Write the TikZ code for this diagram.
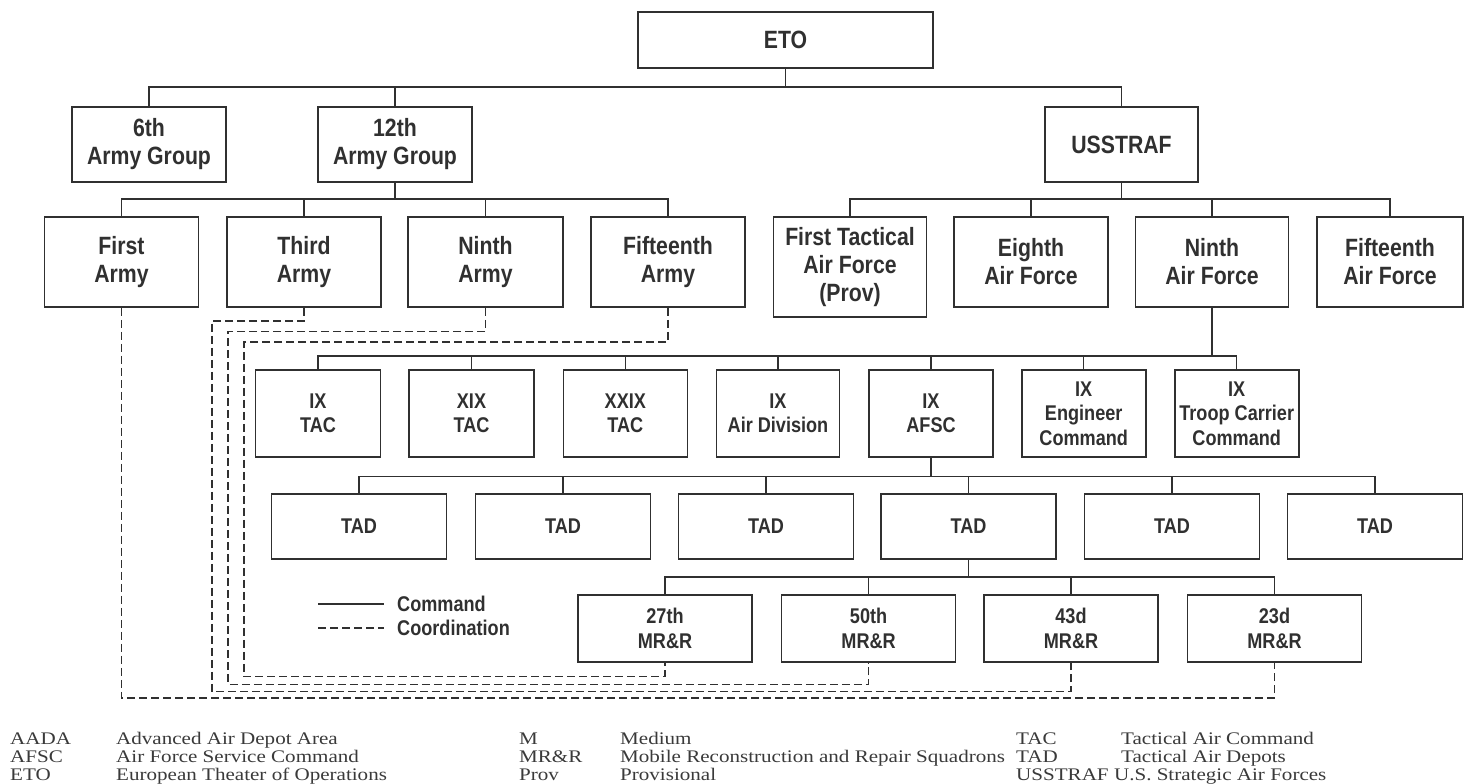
\documentclass[tikz,border=0pt]{standalone}
\usepackage{fontspec}
\setmainfont{Liberation Serif}
\newfontfamily\bxfont[FakeStretch=0.85]{Liberation Sans}
\newfontfamily\glfont[FakeStretch=1.19]{Liberation Serif}
\definecolor{ink}{HTML}{303030}
\definecolor{gink}{HTML}{3a3a3a}
\begin{document}
\begin{tikzpicture}[x=1pt,y=-1pt,
  box/.style={draw=ink, line width=1.6pt, rectangle, align=center, text=ink, inner sep=0pt,
    font=\bxfont\bfseries\fontsize{25}{28}\selectfont},
  sbox/.style={box, font=\bxfont\bfseries\fontsize{21.3}{24.5}\selectfont},
  cmd/.style={draw=ink, line width=1.3pt},
  crd/.style={draw=ink, line width=1.2pt, dash pattern=on 8pt off 4pt},
  lg/.style={anchor=west, inner sep=0pt, text=ink, font=\bxfont\bfseries\fontsize{21.3}{24}\selectfont},
  gl/.style={anchor=base west, inner sep=0pt, text=gink, font=\glfont\fontsize{17.7}{20}\selectfont}]
\useasboundingbox (0,0) rectangle (1467,784);
\fill[white] (0,0) rectangle (1467,784);

% top levels
\node[box, minimum width=295, minimum height=56] (eto) at (785.5,40) {ETO};
\node[box, minimum width=154, minimum height=75] (g6) at (149,144.5) {6th\\Army Group};
\node[box, minimum width=154, minimum height=75] (g12) at (395,144.5) {12th\\Army Group};
\node[box, minimum width=153, minimum height=75] (usstraf) at (1121.5,144.5) {USSTRAF};

% armies and air forces
\node[box, minimum width=154, minimum height=90] (a1) at (121.5,262) {First\\Army};
\node[box, minimum width=154, minimum height=90] (a3) at (304,262) {Third\\Army};
\node[box, minimum width=155, minimum height=90] (a9) at (485.5,262) {Ninth\\Army};
\node[box, minimum width=154, minimum height=90] (a15) at (668,262) {Fifteenth\\Army};
\node[box, minimum width=153, minimum height=100] (af1) at (850,267) {First Tactical\\Air Force\\(Prov)};
\node[box, minimum width=154, minimum height=90] (af8) at (1031,262) {Eighth\\Air Force};
\node[box, minimum width=153, minimum height=90] (af9) at (1212,262) {Ninth\\Air Force};
\node[box, minimum width=146, minimum height=90] (af15) at (1390,262) {Fifteenth\\Air Force};

% IX row
\node[sbox, minimum width=125, minimum height=87] (t9) at (318,413.5) {IX\\TAC};
\node[sbox, minimum width=125, minimum height=87] (t19) at (471.5,413.5) {XIX\\TAC};
\node[sbox, minimum width=124, minimum height=87] (t29) at (625.3,413.5) {XXIX\\TAC};
\node[sbox, minimum width=123, minimum height=87] (ad9) at (778,413.5) {IX\\Air Division};
\node[sbox, minimum width=124, minimum height=87] (afsc) at (931,413.5) {IX\\AFSC};
\node[sbox, minimum width=124, minimum height=87] (eng) at (1083.7,413.5) {IX\\Engineer\\Command};
\node[sbox, minimum width=124, minimum height=87] (tcc) at (1236.7,413.5) {IX\\Troop Carrier\\Command};

% TAD row
\node[sbox, minimum width=175, minimum height=65] (tad1) at (359,526.5) {TAD};
\node[sbox, minimum width=175, minimum height=65] (tad2) at (563,526.5) {TAD};
\node[sbox, minimum width=175, minimum height=65] (tad3) at (766,526.5) {TAD};
\node[sbox, minimum width=175, minimum height=65] (tad4) at (968.5,526.5) {TAD};
\node[sbox, minimum width=175, minimum height=65] (tad5) at (1172,526.5) {TAD};
\node[sbox, minimum width=175, minimum height=65] (tad6) at (1375,526.5) {TAD};

% MR&R row
\node[sbox, minimum width=174, minimum height=67] (mr27) at (665,628.5) {27th\\MR\&R};
\node[sbox, minimum width=174, minimum height=67] (mr50) at (868.6,628.5) {50th\\MR\&R};
\node[sbox, minimum width=174, minimum height=67] (mr43) at (1071,628.5) {43d\\MR\&R};
\node[sbox, minimum width=174, minimum height=67] (mr23) at (1274.5,628.5) {23d\\MR\&R};

% command connectors
\draw[cmd] (eto.south) -- (eto.south |- 0,87);
\draw[cmd] (g6.north) |- (usstraf.north |- 0,87) -- (usstraf.north);
\draw[cmd] (g12.north) -- (g12.north |- 0,87);

\draw[cmd] (g12.south) -- (g12.south |- 0,199);
\draw[cmd] (a1.north) |- (a15.north |- 0,199) -- (a15.north);
\draw[cmd] (a3.north) -- (a3.north |- 0,199);
\draw[cmd] (a9.north) -- (a9.north |- 0,199);

\draw[cmd] (usstraf.south) -- (usstraf.south |- 0,199);
\draw[cmd] (af1.north) |- (af15.north |- 0,199) -- (af15.north);
\draw[cmd] (af8.north) -- (af8.north |- 0,199);
\draw[cmd] (af9.north) -- (af9.north |- 0,199);

\draw[cmd] (af9.south) -- (af9.south |- 0,356);
\draw[cmd] (t9.north) |- (tcc.north |- 0,356) -- (tcc.north);
\foreach \n in {t19,t29,ad9,afsc,eng} \draw[cmd] (\n.north) -- (\n.north |- 0,356);

\draw[cmd] (afsc.south) -- (afsc.south |- 0,476.5);
\draw[cmd] (tad1.north) |- (tad6.north |- 0,476.5) -- (tad6.north);
\foreach \n in {tad2,tad3,tad4,tad5} \draw[cmd] (\n.north) -- (\n.north |- 0,476.5);

\draw[cmd] (tad4.south) -- (tad4.south |- 0,577);
\draw[cmd] (mr27.north) |- (mr23.north |- 0,577) -- (mr23.north);
\foreach \n in {mr50,mr43} \draw[cmd] (\n.north) -- (\n.north |- 0,577);

% coordination connectors
\draw[crd] (a1.south) |- (mr23.south |- 0,698) -- (mr23.south);
\draw[crd] (a3.south) |- (212,321) |- (mr43.south |- 0,691.5) -- (mr43.south);
\draw[crd] (a9.south) |- (228,331.5) |- (mr50.south |- 0,684.5) -- (mr50.south);
\draw[crd] (a15.south) |- (244,342) |- (mr27.south |- 0,676.5) -- (mr27.south);

% legend
\node[lg] (lgcmd) at (397,604) {Command};
\node[lg] (lgcrd) at (397,628) {Coordination};
\coordinate (lgs1) at (318,604);
\coordinate (lgs2) at (318,628);
\draw[cmd] (lgs1) -- ([xshift=-13pt]lgcmd.west);
\draw[crd] (lgs2) -- ([xshift=-13pt]lgcrd.west);

% glossary
\node[gl] (k1) at (10,744) {AADA};
\node[gl] (d1) at (116,744) {Advanced Air Depot Area};
\node[gl] (k2) at (10,762) {AFSC};
\node[gl] (d2) at (116,762) {Air Force Service Command};
\node[gl] (k3) at (10,780) {ETO};
\node[gl] (d3) at (116,780) {European Theater of Operations};
\node[gl] (k4) at (519,744) {M};
\node[gl] (d4) at (620,744) {Medium};
\node[gl] (k5) at (519,762) {MR\&R};
\node[gl] (d5) at (620,762) {Mobile Reconstruction and Repair Squadrons};
\node[gl] (k6) at (519,780) {Prov};
\node[gl] (d6) at (620,780) {Provisional};
\node[gl] (k7) at (1016,744) {TAC};
\node[gl] (d7) at (1121,744) {Tactical Air Command};
\node[gl] (k8) at (1016,762) {TAD};
\node[gl] (d8) at (1121,762) {Tactical Air Depots};
\node[gl] (k9) at (1016,780) {USSTRAF};
\node[gl] (d9) at ([xshift=5pt]k9.base east) {U.S. Strategic Air Forces};
\end{tikzpicture}
\end{document}
